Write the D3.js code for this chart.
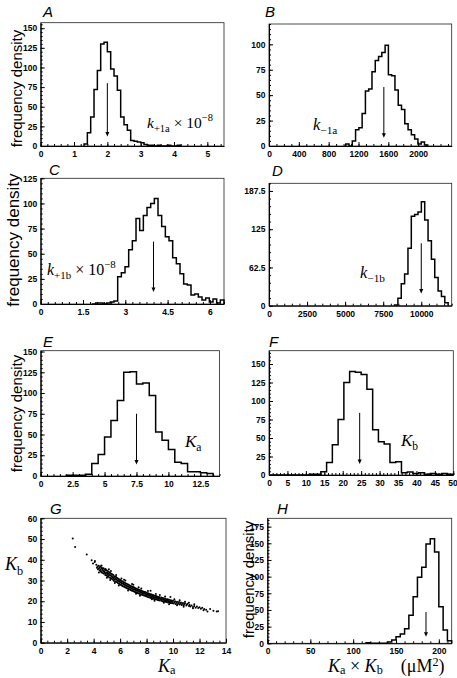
<!DOCTYPE html>
<html><head><meta charset="utf-8">
<script src="https://cdn.jsdelivr.net/npm/d3@7"></script>
<style>body{margin:0;background:#fff} svg{display:block}</style>
</head><body><svg id="c" width="457" height="678"></svg>
<script>
// ---------------- DATA ----------------
// A: k+1a x 1e-8
const aXTicks = [0, 1, 2, 3, 4, 5];
const aYTicks = [0, 25, 50, 75, 100, 125, 150];
const aBinStart = 1.3, aBinWidth = 0.1;
const aCounts = [2.5, 17, 37, 72, 96, 130, 132, 120, 98, 89, 71, 37, 27, 20, 7, 6, 5, 4, 2, 1, 1, 0, 1, 0, 0, 1, 0, 0, 1];
const aArrow = [2.0, 80, 12];
// B: k-1a
const bXTicks = [0, 400, 800, 1200, 1600, 2000];
const bYTicks = [0, 25, 50, 75, 100];
const bBinStart = 1029, bBinWidth = 44;
const bCounts = [2, 0, 5, 16, 18, 32, 54, 56, 73, 84, 88, 92, 99, 70, 69, 55, 40, 36, 22, 16, 11, 7, 2, 4, 1];
const bArrow = [1540, 58, 8];
// C: k+1b x 1e-8
const cXTicks = [0, 1.5, 3, 4.5, 6];
const cYTicks = [0, 25, 50, 75, 100, 125];
const cBinStart = 1.82, cBinWidth = 0.13;
const cCounts = [0, 1, 1, 0, 1, 2, 3, 27, 31, 37, 54, 63, 85, 73, 88, 96, 100, 105, 88, 77, 67, 63, 46, 40, 30, 20, 19, 9, 10, 7, 4, 6, 2, 5, 1, 4];
const cArrow = [4.0, 62, 12];
// D: k-1b
const dXTicks = [0, 2500, 5000, 7500, 10000];
const dYTicks = [0, 62.5, 125, 187.5];
const dBinStart = 8247, dBinWidth = 220;
const dCounts = [1, 12, 36, 52, 94, 146, 149, 153, 170, 140, 106, 76, 46, 24, 15, 5];
const dArrow = [10000, 102, 20];
// E: Ka
const eXTicks = [0, 2.5, 5, 7.5, 10, 12.5];
const eYTicks = [0, 25, 50, 75, 100, 125, 150];
const eBinStart = 2.0, eBinWidth = 0.5;
const eCounts = [1, 1, 1, 2, 15, 26, 47, 67, 91, 125, 125.5, 111, 112, 97, 53, 43, 32, 16.5, 15, 5, 5, 4, 3];
const eArrow = [7.5, 75, 14];
// F: Kb
const fXTicks = [0, 5, 10, 15, 20, 25, 30, 35, 40, 45, 50];
const fYTicks = [0, 25, 50, 75, 100, 125, 150];
const fBinStart = 0, fBinWidth = 1.5625;
const fCounts = [0, 0, 0, 0, 0, 0, 0, 1, 1, 4.5, 17, 41, 75, 125, 140, 139, 136, 116, 61, 45, 42, 17, 18, 3, 4, 2, 3, 1, 2, 1, 2, 1];
const fArrow = [24.6, 84, 15];
// G: Kb vs Ka scatter
const gXTicks = [0, 2, 4, 6, 8, 10, 12, 14];
const gYTicks = [0, 10, 20, 30, 40, 50, 60];
const gPoints = [[2.42,50.3],[2.6,46.1],[3.48,42.6],[3.85,39.8],[4.08,38.9],[4.1,39.4],[3.95,38.2],[4.2,37.6],[4.25,36.2],
[4.3,36.8],[4.32,35.4],[4.38,37.1],[4.4,35.9],[4.45,34.8],[4.47,36.4],[4.5,35.2],[4.52,36.9],[4.55,34.3],[4.58,35.8],[4.6,33.9],[4.62,36.1],[4.65,34.9],[4.68,35.5],[4.7,33.6],[4.72,34.6],[4.75,35.9],[4.78,33.2],[4.8,34.4],[4.82,35.3],[4.85,33.8],[4.88,32.7],[4.9,34.9],[4.92,33.4],[4.95,35.1],[4.97,32.4],[5.0,33.9],[5.02,34.7],[5.04,32.9],[5.06,31.8],[5.08,33.5],[5.1,34.3],[5.12,32.2],[5.15,33.1],[5.18,31.5],[5.2,34.0],[5.22,32.6],[5.25,33.6],[5.28,31.2],[5.3,32.3],[5.32,33.3],[5.35,30.9],[5.38,32.0],[5.4,33.0],[5.42,31.6],[5.45,30.5],[5.48,32.6],[5.5,31.2],[5.52,29.9],[5.55,32.1],[5.58,30.6],[5.6,31.7],[5.62,29.6],[5.65,30.9],[5.68,31.9],[5.7,29.3],[5.72,30.4],[5.75,31.3],[5.78,29.1],[5.8,30.0],[5.82,31.0],[5.85,28.7],[5.88,29.8],[5.9,30.7],[5.92,28.4],[5.95,29.4],[5.98,30.3],[6.0,28.1],[6.02,29.2],[6.05,30.1],[6.08,27.8],[6.1,28.8],[6.12,29.7],[6.15,27.5],[6.18,28.5],[6.2,29.5],[6.22,27.2],[6.25,28.3],[6.28,29.1],[6.3,27.0],[6.32,28.0],[6.35,28.9],[6.38,26.8],[6.4,27.7],[6.42,28.6],[6.45,26.5],[6.48,27.5],[6.5,28.4],[6.52,26.3],[6.55,27.2],[6.58,28.1],[6.6,26.0],[6.62,27.0],[6.65,27.9],[6.68,25.8],[6.7,26.7],[6.72,27.6],[6.75,25.6],[6.78,26.5],[6.8,27.4],[6.82,25.3],[6.85,26.2],[6.88,27.1],[6.9,25.1],[6.92,26.0],[6.95,26.9],[6.98,24.9],[7.0,25.8],[7.02,26.7],[7.05,24.7],[7.08,25.6],[7.1,26.5],[7.12,24.5],[7.15,25.4],[7.18,26.2],[7.2,24.3],[7.22,25.2],[7.25,26.0],[7.28,24.1],[7.3,25.0],[7.32,25.8],[7.35,23.9],[7.38,24.8],[7.4,25.6],[7.42,23.7],[7.45,24.6],[7.48,25.4],[7.5,23.5],[7.52,24.4],[7.55,25.2],[7.58,23.3],[7.6,24.2],[7.62,25.0],[7.65,23.2],[7.68,24.0],[7.7,24.8],[7.72,23.0],[7.75,23.8],[7.78,24.6],[7.8,22.8],[7.82,23.7],[7.85,24.4],[7.88,22.6],[7.9,23.5],[7.92,24.3],[7.95,22.5],[7.98,23.3],[8.0,24.1],[8.02,22.3],[8.05,23.1],[8.08,23.9],[8.1,22.1],[8.12,23.0],[8.15,23.7],[8.18,21.9],[8.2,22.8],[8.22,23.5],[8.25,21.8],[8.28,22.6],[8.3,23.4],[8.32,21.6],[8.35,22.4],[8.38,23.2],[8.4,21.5],[8.42,22.3],[8.45,23.0],[8.48,21.3],[8.5,22.1],[8.52,22.9],[8.55,21.2],[8.58,21.9],[8.6,22.7],[8.62,21.0],[8.65,21.8],[8.68,22.5],[8.7,20.9],[8.72,21.7],[8.75,22.4],[8.78,20.8],[8.8,21.5],[8.82,22.2],[8.85,20.6],[8.88,21.4],[8.9,22.1],[8.92,20.5],[8.95,21.2],[8.98,21.9],[9.0,20.4],[9.05,21.1],[9.1,21.8],[9.12,20.2],[9.15,20.9],[9.2,21.6],[9.22,20.0],[9.25,20.7],[9.3,21.4],[9.32,19.9],[9.35,20.6],[9.4,21.2],[9.42,19.7],[9.45,20.4],[9.5,21.0],[9.52,19.6],[9.55,20.2],[9.6,20.9],[9.62,19.4],[9.65,20.1],[9.7,20.7],[9.72,19.3],[9.75,19.9],[9.8,20.5],[9.82,19.2],[9.85,19.8],[9.9,20.4],[9.92,19.0],[9.95,19.6],[10.0,20.2],[10.05,18.9],[10.1,19.5],[10.15,20.0],[10.2,18.7],[10.25,19.3],[10.3,19.8],[10.35,18.5],[10.4,19.1],[10.45,19.6],[10.5,18.4],[10.55,18.9],[10.6,19.4],[10.65,18.2],[10.7,18.8],[10.75,19.2],[10.8,18.1],[10.85,18.6],[10.9,19.0],[11.0,17.9],[11.05,18.4],[11.1,18.8],[11.2,17.7],[11.25,18.2],[11.3,17.4],[11.4,18.0],[11.5,17.2],[11.6,17.7],[11.7,16.9],[11.8,17.4],[11.9,16.7],[12.0,17.1],[12.1,16.4],[12.2,16.8],[12.35,16.2],[12.5,15.9],[12.6,15.1],[12.8,16.3],[13.05,15.4],[13.3,15.0],[13.4,15.2],
[4.9,35.6],[5.0,31.3],[5.3,34.6],[6.1,31.0],[6.4,30.0],[7.0,28.0],[7.6,26.2],[8.3,25.0],[9.0,23.0],[9.8,22.0],[10.5,20.5],[11.2,19.3],[5.6,28.8],[6.6,25.2],[7.5,22.6],[8.6,20.2],[9.7,18.6],[10.8,17.3],
[4.6,37.2],[5.15,35.4],[5.7,32.6],[6.3,30.4],[6.9,28.3],[7.4,26.8],[8.1,24.9],[8.7,23.5],[9.4,22.3],[10.1,21.0],[10.9,19.8],[11.6,18.6],[5.9,27.6],[7.2,23.6],[8.4,20.9],[9.3,19.3],[10.3,18.1],[11.5,16.6],[12.3,15.6],[4.4,33.8],[5.25,30.2]];
// H: Ka x Kb
const hXTicks = [0, 50, 100, 150, 200];
const hYTicks = [0, 25, 50, 75, 100, 125, 150, 175];
const hBinStart = 115, hBinWidth = 5;
const hCounts = [1, 0, 0, 0, 0, 2, 5, 10, 14, 22, 42, 70, 99, 114, 149, 157, 137, 55, 20, 4];
const hArrow = [185, 47, 10];

// ---------------- DRAWING ----------------
const svg = d3.select("#c");
const SANS = "'Liberation Sans', Arial, Helvetica, sans-serif";
const SERIF = "'Liberation Serif', 'Times New Roman', serif";

function minorValues(domain, step) {
  const out = [];
  for (let i = 0; domain[0] + i * step <= domain[1] + 1e-9; i++) out.push(+(domain[0] + i * step).toFixed(6));
  return out;
}

function panel(o) {
  const [x0, y0, x1, y1] = o.box;
  const x = d3.scaleLinear().domain(o.xDomain).range([x0, x1]);
  const y = d3.scaleLinear().domain(o.yDomain).range([y1, y0]);
  const g = svg.append("g");
  g.append("rect").attr("x", x0).attr("y", y0).attr("width", x1 - x0).attr("height", y1 - y0)
    .attr("fill", "none").attr("stroke", "#222").attr("stroke-width", 0.8);
  g.append("g").attr("transform", `translate(0,${y1})`)
    .call(d3.axisBottom(x).tickValues(minorValues(o.xDomain, o.xMinor)).tickSize(-2).tickSizeOuter(0).tickFormat(""))
    .call(s => s.select(".domain").remove());
  g.append("g").attr("transform", `translate(${x0},0)`)
    .call(d3.axisLeft(y).tickValues(minorValues(o.yDomain, o.yMinor)).tickSize(-2).tickSizeOuter(0).tickFormat(""))
    .call(s => s.select(".domain").remove());
  const xa = g.append("g").attr("transform", `translate(0,${y1})`)
    .call(d3.axisBottom(x).tickValues(o.xTicks).tickSize(-4).tickSizeOuter(0).tickPadding(5).tickFormat(d => String(d)));
  const ya = g.append("g").attr("transform", `translate(${x0},0)`)
    .call(d3.axisLeft(y).tickValues(o.yTicks).tickSize(-4).tickSizeOuter(0).tickPadding(3.5).tickFormat(d => String(d)));
  [xa, ya].forEach(a => {
    a.selectAll("text").attr("font-family", SANS).attr("font-size", 8.5).attr("font-weight", "bold").attr("fill", "#000");
    a.selectAll("line").attr("stroke", "#000").attr("stroke-width", 1);
    a.select(".domain").attr("stroke", "#000").attr("stroke-width", 1.1);
  });
  xa.selectAll(".tick text").filter(d => x(d) > 448).attr("text-anchor", "end").attr("dx", 4);
  svg.append("text").attr("x", o.letterPos[0]).attr("y", o.letterPos[1])
    .attr("font-family", SANS).attr("font-style", "italic").attr("font-size", 15).text(o.letter);
  return { x, y, g };
}

function hist(p, start, width, counts) {
  const pts = counts.map((c, i) => [start + i * width, c]);
  pts.unshift([start, 0]);
  pts.push([start + counts.length * width, counts[counts.length - 1]]);
  pts.push([start + counts.length * width, 0]);
  const line = d3.line().x(d => p.x(d[0])).y(d => p.y(d[1])).curve(d3.curveStepAfter);
  p.g.append("path").attr("d", line(pts)).attr("fill", "none").attr("stroke", "#000").attr("stroke-width", 1.5);
}

function arrow(p, a) {
  const xx = p.x(a[0]), yt = p.y(a[1]), yb = p.y(a[2]);
  p.g.append("line").attr("x1", xx).attr("x2", xx).attr("y1", yt).attr("y2", yb - 3).attr("stroke", "#000").attr("stroke-width", 1);
  p.g.append("path").attr("d", `M${xx - 2},${yb - 4.5}L${xx + 2},${yb - 4.5}L${xx},${yb}Z`).attr("fill", "#000");
}

function yTitle(xb, yc, size) {
  svg.append("text").attr("transform", `translate(${xb},${yc}) rotate(-90)`).attr("text-anchor", "middle")
    .attr("font-family", SANS).attr("font-size", size).text("frequency density");
}

function serifLabel(xp, yp, size, parts, subShift, supShift) {
  const t = svg.append("text").attr("x", xp).attr("y", yp).attr("font-family", SERIF).attr("font-size", size);
  let cur = 0;
  const sub = subShift === undefined ? 0.25 : subShift;
  const sup = supShift === undefined ? 0.42 : supShift;
  parts.forEach(pt => {
    const ts = t.append("tspan").text(pt.t);
    const target = pt.sub ? size * sub : pt.sup ? -size * sup : 0;
    ts.attr("dy", target - cur); cur = target;
    if (pt.i) ts.attr("font-style", "italic");
    if (pt.sub || pt.sup) ts.attr("font-size", size * 0.68);
  });
}

// A
const pA = panel({ box: [40.7, 22.7, 224, 146], xDomain: [0, 5.5], yDomain: [0, 157], xTicks: aXTicks, yTicks: aYTicks, xMinor: 0.2, yMinor: 5, letter: "A", letterPos: [43, 17] });
hist(pA, aBinStart, aBinWidth, aCounts); arrow(pA, aArrow);
yTitle(22, 88.5, 15);
serifLabel(147, 128, 15.5, [{ t: "k", i: 1 }, { t: "+1a", sub: 1 }, { t: " × 10" }, { t: "−8", sup: 1 }]);

// B
const pB = panel({ box: [269, 24, 451.7, 146], xDomain: [0, 2450], yDomain: [0, 120], xTicks: bXTicks, yTicks: bYTicks, xMinor: 100, yMinor: 5, letter: "B", letterPos: [265, 17] });
hist(pB, bBinStart, bBinWidth, bCounts); arrow(pB, bArrow);
serifLabel(313, 130, 16.5, [{ t: "k", i: 1 }, { t: "−1a", sub: 1 }]);

// C
const pC = panel({ box: [40.7, 178.3, 224, 304], xDomain: [0, 6.5], yDomain: [0, 125], xTicks: cXTicks, yTicks: cYTicks, xMinor: 0.25, yMinor: 5, letter: "C", letterPos: [49, 175] });
hist(pC, cBinStart, cBinWidth, cCounts); arrow(pC, cArrow);
yTitle(19, 240, 17);
serifLabel(47, 275, 16, [{ t: "k", i: 1 }, { t: "+1b", sub: 1 }, { t: " × 10" }, { t: "−8", sup: 1 }]);

// D
const pD = panel({ box: [269, 183.3, 451.7, 305.7], xDomain: [0, 12000], yDomain: [0, 200], xTicks: dXTicks, yTicks: dYTicks, xMinor: 500, yMinor: 12.5, letter: "D", letterPos: [272, 176] });
hist(pD, dBinStart, dBinWidth, dCounts); arrow(pD, dArrow);
serifLabel(360, 278, 16.5, [{ t: "k", i: 1 }, { t: "−1b", sub: 1 }]);

// E
const pE = panel({ box: [40.7, 350.7, 219.5, 476], xDomain: [0, 14], yDomain: [0, 151], xTicks: eXTicks, yTicks: eYTicks, xMinor: 0.5, yMinor: 5, letter: "E", letterPos: [43, 347] });
hist(pE, eBinStart, eBinWidth, eCounts); arrow(pE, eArrow);
yTitle(22, 413.5, 15);
serifLabel(185, 447, 17, [{ t: "K", i: 1 }, { t: "a", sub: 1 }]);

// F
const pF = panel({ box: [269, 350.7, 453.3, 475], xDomain: [0, 50], yDomain: [0, 168], xTicks: fXTicks, yTicks: fYTicks, xMinor: 1, yMinor: 5, letter: "F", letterPos: [269, 347] });
hist(pF, fBinStart, fBinWidth, fCounts); arrow(pF, fArrow);
serifLabel(401, 446, 17, [{ t: "K", i: 1 }, { t: "b", sub: 1 }]);

// G
const pG = panel({ box: [40.7, 518.3, 226, 642.7], xDomain: [0, 14], yDomain: [0, 60], xTicks: gXTicks, yTicks: gYTicks, xMinor: 0.5, yMinor: 2, letter: "G", letterPos: [50, 514] });
pG.g.append("g").selectAll("circle").data(gPoints).join("circle")
  .attr("cx", d => pG.x(d[0])).attr("cy", d => pG.y(d[1])).attr("r", 1.0).attr("fill", "#000");
serifLabel(5, 570, 18, [{ t: "K", i: 1 }, { t: "b", sub: 1 }]);
serifLabel(158, 672, 18, [{ t: "K", i: 1 }, { t: "a", sub: 1 }], 0.12);

// H
const pH = panel({ box: [267.5, 518.3, 451.7, 643.3], xDomain: [0, 215], yDomain: [0, 187.5], xTicks: hXTicks, yTicks: hYTicks, xMinor: 10, yMinor: 5, letter: "H", letterPos: [277, 514] });
hist(pH, hBinStart, hBinWidth, hCounts); arrow(pH, hArrow);
yTitle(254, 579.5, 15);
serifLabel(328, 672, 18, [{ t: "K", i: 1 }, { t: "a", sub: 1 }, { t: "\u00a0×\u00a0" }, { t: "K", i: 1 }, { t: "b", sub: 1 }, { t: "\u00a0\u00a0\u00a0\u00a0(μM" }, { t: "2", sup: 1 }, { t: ")" }], 0.12, 0.32);
</script></body></html>
